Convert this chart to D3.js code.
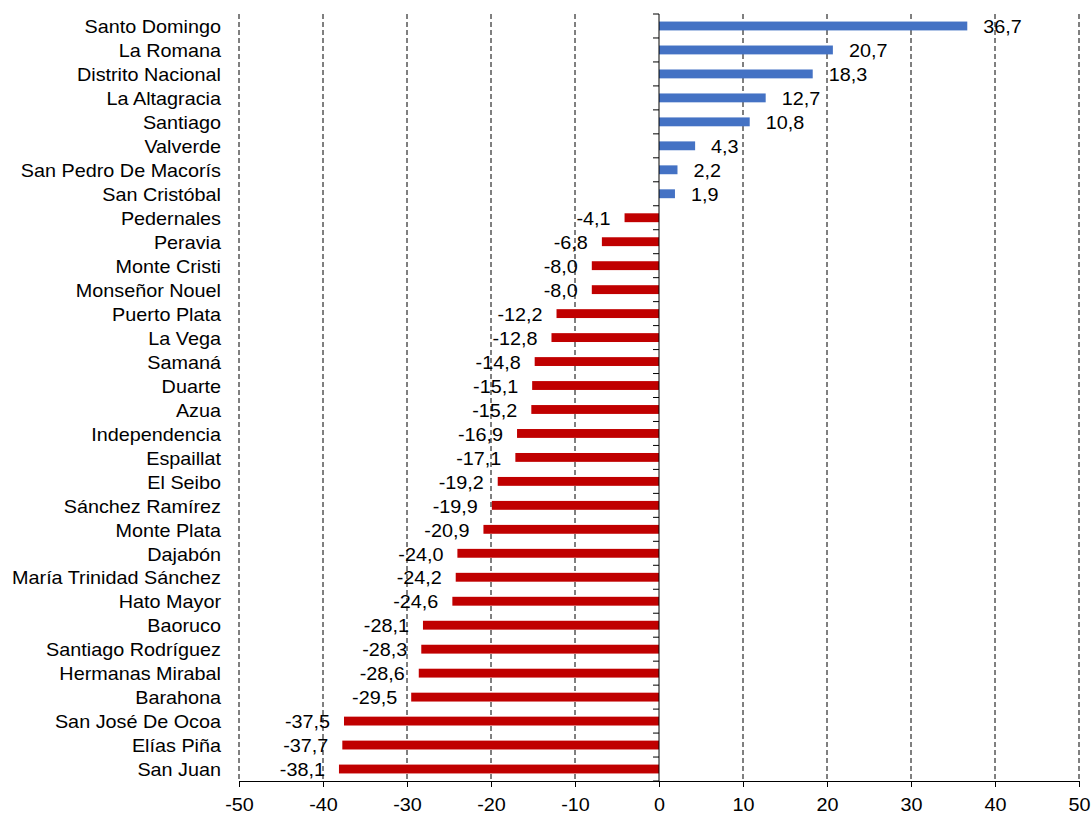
<!DOCTYPE html>
<html>
<head>
<meta charset="utf-8">
<script src="https://cdn.jsdelivr.net/npm/d3@7.9.0/dist/d3.min.js"></script>
<style>
  body { margin: 0; background: #fff; }
  text { font-family: "Liberation Sans", Arial, sans-serif; fill: #000; }
</style>
</head>
<body>
<svg id="chart" width="1092" height="815"></svg>
<script>
const provinces = [
  'Santo Domingo', 'La Romana', 'Distrito Nacional', 'La Altagracia', 'Santiago',
  'Valverde', 'San Pedro De Macorís', 'San Cristóbal', 'Pedernales', 'Peravia',
  'Monte Cristi', 'Monseñor Nouel', 'Puerto Plata', 'La Vega', 'Samaná', 'Duarte',
  'Azua', 'Independencia', 'Espaillat', 'El Seibo', 'Sánchez Ramírez', 'Monte Plata',
  'Dajabón', 'María Trinidad Sánchez', 'Hato Mayor', 'Baoruco', 'Santiago Rodríguez',
  'Hermanas Mirabal', 'Barahona', 'San José De Ocoa', 'Elías Piña', 'San Juan'
];
const values = [
  36.7, 20.7, 18.3, 12.7, 10.8, 4.3, 2.2, 1.9, -4.1, -6.8,
  -8.0, -8.0, -12.2, -12.8, -14.8, -15.1, -15.2, -16.9, -17.1, -19.2,
  -19.9, -20.9, -24.0, -24.2, -24.6, -28.1, -28.3, -28.6, -29.5, -37.5,
  -37.7, -38.1
];
const xTicks = [-50, -40, -30, -20, -10, 0, 10, 20, 30, 40, 50];

const data = provinces.map((p, i) => ({ name: p, value: values[i] }));

const svg = d3.select('#chart');
const plotLeft = 239, plotRight = 1079, plotTop = 14, plotBottom = 781;
const fontSize = '18px';
const stretch = 'scale(1.1,1)'; // the reference text is a bit wide for its height

const x = d3.scaleLinear().domain([-50, 50]).range([plotLeft, plotRight]);
const y = d3.scaleBand().domain(provinces).range([plotTop, plotBottom]).paddingInner(0.63).paddingOuter(0.315);

// dashed gridlines
svg.append('g')
  .selectAll('line')
  .data(xTicks.filter(t => t !== 0))
  .join('line')
  .attr('x1', d => x(d)).attr('x2', d => x(d))
  .attr('y1', plotTop).attr('y2', plotBottom)
  .attr('stroke', '#000')
  .attr('stroke-width', 1)
  .attr('stroke-dasharray', '5,3');

// bars
svg.append('g')
  .selectAll('rect')
  .data(data)
  .join('rect')
  .attr('x', d => x(Math.min(0, d.value)))
  .attr('width', d => Math.abs(x(d.value) - x(0)))
  .attr('y', d => y(d.name))
  .attr('height', y.bandwidth())
  .attr('fill', d => d.value >= 0 ? '#4472C4' : '#C00000');

// value labels
const fmt = v => d3.format('.1f')(v).replace('.', ',').replace('−', '-');
svg.append('g')
  .selectAll('text')
  .data(data)
  .join('text')
  .attr('transform', d => {
    const tx = d.value >= 0 ? x(d.value) + 16 : x(d.value) - 14;
    const ty = y(d.name) + y.bandwidth() / 2;
    return `translate(${tx},${ty}) ${stretch}`;
  })
  .attr('dy', '0.4em')
  .attr('text-anchor', d => d.value >= 0 ? 'start' : 'end')
  .style('font-size', fontSize)
  .text(d => fmt(d.value));

// zero axis with category ticks
svg.append('line')
  .attr('x1', x(0)).attr('x2', x(0))
  .attr('y1', plotTop).attr('y2', plotBottom)
  .attr('stroke', '#000').attr('stroke-width', 1);
svg.append('g')
  .selectAll('line')
  .data(d3.range(provinces.length + 1))
  .join('line')
  .attr('x1', x(0) - 6).attr('x2', x(0))
  .attr('y1', i => plotTop + i * (plotBottom - plotTop) / provinces.length)
  .attr('y2', i => plotTop + i * (plotBottom - plotTop) / provinces.length)
  .attr('stroke', '#000');

// category labels
svg.append('g')
  .selectAll('text')
  .data(provinces)
  .join('text')
  .attr('transform', d => `translate(221,${y(d) + y.bandwidth() / 2}) ${stretch}`)
  .attr('dy', '0.4em')
  .attr('text-anchor', 'end')
  .style('font-size', fontSize)
  .text(d => d);

// bottom axis
const xAxis = d3.axisBottom(x)
  .tickValues(xTicks)
  .tickSizeInner(6)
  .tickSizeOuter(0)
  .tickPadding(11)
  .tickFormat(d => String(d));
const gx = svg.append('g')
  .attr('transform', `translate(0,${plotBottom})`)
  .call(xAxis);
gx.select('.domain').attr('stroke', '#000');
gx.selectAll('.tick line').attr('stroke', '#000');
gx.selectAll('.tick text')
  .attr('transform', stretch)
  .style('font-size', fontSize)
  .style('font-family', '"Liberation Sans", Arial, sans-serif')
  .attr('fill', '#000');
</script>
</body>
</html>
